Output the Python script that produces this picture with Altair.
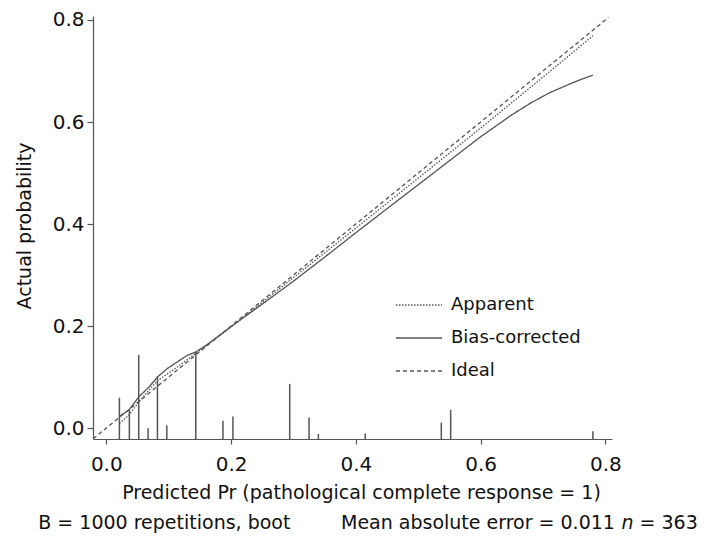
import altair as alt
import pandas as pd

# ---------------- data ----------------
series_names = ["Apparent", "Bias-corrected", "Ideal"]

apparent_x = [0.021, 0.036, 0.052, 0.082, 0.113, 0.143, 0.20, 0.30, 0.40, 0.50, 0.60, 0.70, 0.78]
apparent_y = [0.009, 0.025, 0.051, 0.093, 0.119, 0.146, 0.198, 0.295, 0.392, 0.490, 0.588, 0.688, 0.769]

bias_x = [0.021, 0.036, 0.052, 0.068, 0.082, 0.097, 0.113, 0.129, 0.143, 0.161, 0.20, 0.25,
          0.30, 0.35, 0.40, 0.45, 0.50, 0.55, 0.60, 0.65, 0.68, 0.71, 0.74, 0.76, 0.78]
bias_y = [0.023, 0.035, 0.061, 0.080, 0.100, 0.116, 0.129, 0.142, 0.149, 0.163, 0.199, 0.243,
          0.288, 0.335, 0.383, 0.430, 0.477, 0.524, 0.571, 0.614, 0.637, 0.657, 0.673, 0.683, 0.692]

ideal_x = [-0.021, 0.805]
ideal_y = [-0.021, 0.805]

spike_x = [0.021, 0.037, 0.052, 0.067, 0.082, 0.097, 0.1435, 0.187, 0.203, 0.294,
           0.325, 0.340, 0.415, 0.537, 0.552, 0.780]
spike_h = [0.081, 0.058, 0.165, 0.021, 0.123, 0.027, 0.171, 0.036, 0.044, 0.108,
           0.042, 0.010, 0.011, 0.032, 0.057, 0.015]

tick_values = [0.0, 0.2, 0.4, 0.6, 0.8]
x_title = "Predicted Pr (pathological complete response = 1)"
y_title = "Actual probability"
caption_left = "B = 1000 repetitions, boot"
caption_mid = "Mean absolute error = 0.011"
caption_n = "n"
caption_right = "= 363"

X_DOMAIN = [-0.0213, 0.8106]
Y_DOMAIN = [-0.0214, 0.8078]

# ---------------- tables ----------------
rows = []
for name, xs, ys in [("Apparent", apparent_x, apparent_y),
                     ("Bias-corrected", bias_x, bias_y),
                     ("Ideal", ideal_x, ideal_y)]:
    for x, y in zip(xs, ys):
        rows.append({"series": name, "x": x, "y": y})
lines_df = pd.DataFrame(rows)

spikes_df = pd.DataFrame({
    "x": spike_x,
    "y": [Y_DOMAIN[0]] * len(spike_x),
    "y1": [Y_DOMAIN[0] + h for h in spike_h],
})

FONT = "DejaVu Sans"
GREY = "#555555"
TXT = "#111111"

W, H = 519, 423
TOP = 8

xscale = alt.Scale(domain=X_DOMAIN, nice=False, zero=False)
yscale = alt.Scale(domain=Y_DOMAIN, nice=False, zero=False)

xaxis = alt.Axis(values=tick_values, format=".1f", title=x_title, grid=False,
                 domainColor=GREY, tickColor=GREY, tickSize=5, domainWidth=1.2, tickWidth=1.2,
                 labelFontSize=20, labelColor=TXT, labelPadding=10, labelFlush=False,
                 titleFontSize=19, titleFontWeight="normal", titleColor=TXT,
                 titleBaseline="alphabetic", titleX=268, titleY=59, titleAlign="center")
yaxis = alt.Axis(values=tick_values, format=".1f", title=y_title, grid=False,
                 domainColor=GREY, tickColor=GREY, tickSize=6, domainWidth=1.2, tickWidth=1.2,
                 labelFontSize=20, labelColor=TXT, labelPadding=3, labelFlush=False,
                 titleFontSize=19, titleFontWeight="normal", titleColor=TXT,
                 titleBaseline="alphabetic", titleAngle=-90, titleX=-63, titleY=H / 2 - 2,
                 titleAlign="center")

spikes = alt.Chart(spikes_df).mark_rule(strokeWidth=1.5, color=GREY).encode(
    x=alt.X("x:Q", scale=xscale, axis=xaxis),
    y=alt.Y("y:Q", scale=yscale, axis=yaxis),
    y2="y1:Q",
)

lines = alt.Chart(lines_df).mark_line(strokeWidth=1.3, color=GREY).encode(
    x=alt.X("x:Q", scale=xscale, axis=xaxis),
    y=alt.Y("y:Q", scale=yscale, axis=yaxis),
    strokeDash=alt.StrokeDash(
        "series:N",
        scale=alt.Scale(domain=series_names, range=[[1.5, 1.5], [1, 0], [4, 3]]),
        legend=alt.Legend(title=None, orient="none", legendX=302, legendY=265,
                          symbolType="stroke", symbolSize=2116, symbolStrokeWidth=1.3,
                          symbolStrokeColor=GREY, labelFont=FONT, labelFontSize=18,
                          labelColor=TXT, labelOffset=8, rowPadding=-5, labelLimit=400),
    ),
)

cap_df = pd.DataFrame({"a": [caption_left], "b": [caption_mid], "c": [caption_n], "d": [caption_right]})
base_y = 513
cap1 = alt.Chart(cap_df).mark_text(align="left", baseline="alphabetic", fontSize=19, font=FONT,
                                   color=TXT).encode(x=alt.value(-54.7), y=alt.value(base_y), text="a:N")
cap2 = alt.Chart(cap_df).mark_text(align="left", baseline="alphabetic", fontSize=19, font=FONT,
                                   color=TXT).encode(x=alt.value(248), y=alt.value(base_y), text="b:N")
cap3 = alt.Chart(cap_df).mark_text(align="left", baseline="alphabetic", fontSize=19, font=FONT,
                                   fontStyle="italic", color=TXT).encode(x=alt.value(528.5), y=alt.value(base_y), text="c:N")
cap4 = alt.Chart(cap_df).mark_text(align="left", baseline="alphabetic", fontSize=19, font=FONT,
                                   color=TXT).encode(x=alt.value(546.5), y=alt.value(base_y), text="d:N")

chart = alt.layer(spikes, lines, cap1, cap2, cap3, cap4).properties(
    width=W, height=H,
    padding={"left": 85, "top": TOP, "right": 88, "bottom": 529 - TOP - H},
    autosize=alt.AutoSizeParams(type="none"),
).configure(font=FONT).configure_view(stroke=None)

chart.save("out.html", embed_options={"renderer": "svg", "actions": False})
